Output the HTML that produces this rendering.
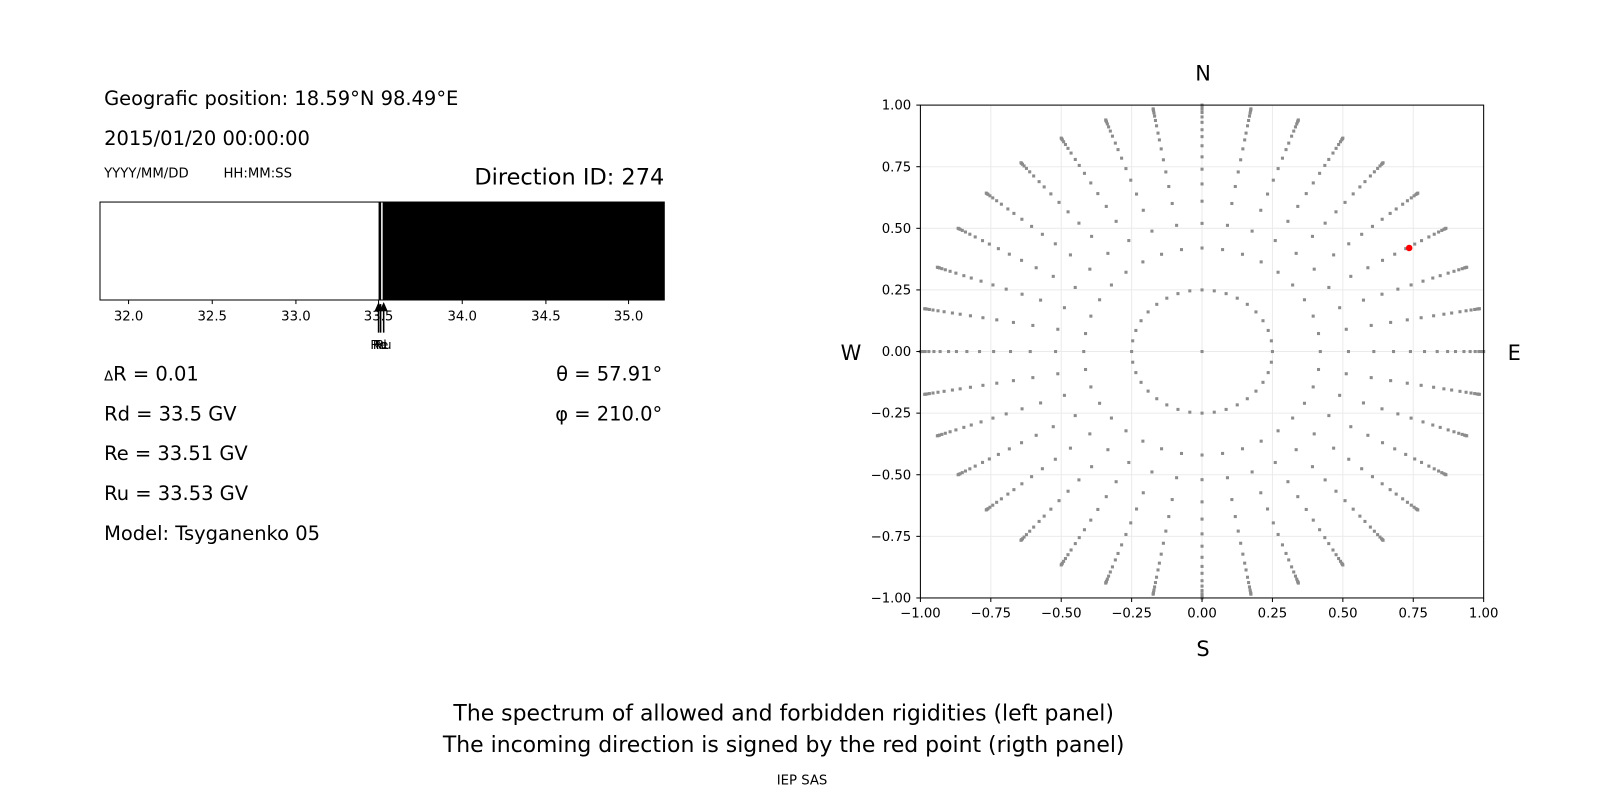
<!DOCTYPE html>
<html><head><meta charset="utf-8"><style>
html,body{margin:0;padding:0;background:#fff;}
svg{display:block;font-family:"DejaVu Sans","Liberation Sans",sans-serif;}
</style></head><body>
<svg id="s" width="1600" height="800" viewBox="0 0 1600 800" xmlns="http://www.w3.org/2000/svg">
<rect width="1600" height="800" fill="#fff"/>
<g transform="scale(1.0204)">
<g font-size="19.1" fill="#000">
<text x="102" y="103">Geografic position: 18.59°N 98.49°E</text>
<text x="102" y="142">2015/01/20 00:00:00</text>
<text x="102" y="174" font-size="13">YYYY/MM/DD</text>
<text x="219" y="174" font-size="13">HH:MM:SS</text>
<text x="651" y="181" font-size="22" text-anchor="end">Direction ID: 274</text>
</g>
<rect x="98" y="198" width="553" height="96" fill="#fff" stroke="#000" stroke-width="1"/>
<rect x="375" y="198" width="276" height="96" fill="#000"/>
<rect x="371" y="198" width="2.5" height="96" fill="#000"/>
<g font-size="13" text-anchor="middle" fill="#000">
<line x1="126" y1="294" x2="126" y2="298" stroke="#000"/><text x="126" y="314">32.0</text>
<line x1="208" y1="294" x2="208" y2="298" stroke="#000"/><text x="208" y="314">32.5</text>
<line x1="290" y1="294" x2="290" y2="298" stroke="#000"/><text x="290" y="314">33.0</text>
<line x1="371" y1="294" x2="371" y2="298" stroke="#000"/><text x="371" y="314">33.5</text>
<line x1="453" y1="294" x2="453" y2="298" stroke="#000"/><text x="453" y="314">34.0</text>
<line x1="535" y1="294" x2="535" y2="298" stroke="#000"/><text x="535" y="314">34.5</text>
<line x1="616" y1="294" x2="616" y2="298" stroke="#000"/><text x="616" y="314">35.0</text>
</g>
<g stroke="#000" stroke-width="1.5">
<line x1="371" y1="298" x2="371" y2="326"/><line x1="373" y1="298" x2="373" y2="326"/><line x1="376" y1="298" x2="376" y2="326"/>
</g>
<polygon points="367,305 371,296 375,305" fill="#000"/>
<polygon points="372,305 376,296 380,305" fill="#000"/>
<g font-size="12" text-anchor="middle" fill="#000">
<text x="371" y="342">Rd</text><text x="373" y="342">Re</text><text x="376" y="342">Ru</text>
</g>
<g font-size="19.1" fill="#000">
<text x="102" y="373"><tspan font-size="13">Δ</tspan>R = 0.01</text>
<text x="102" y="412">Rd = 33.5 GV</text>
<text x="102" y="451">Re = 33.51 GV</text>
<text x="102" y="490">Ru = 33.53 GV</text>
<text x="102" y="529">Model: Tsyganenko 05</text>
<text x="649" y="373" text-anchor="end">θ = 57.91°</text>
<text x="649" y="412" text-anchor="end">φ = 210.0°</text>
</g>
<g id="grid" stroke="#ebebeb" stroke-width="1"></g>
<g id="dots" fill="#8c8c8c"></g>
<circle cx="1381" cy="243" r="3.2" fill="#ff0000"/>
<rect x="902" y="103" width="552" height="483" fill="none" stroke="#000" stroke-width="1"/>
<g id="ticks" font-size="13" fill="#000"></g>
<g font-size="20.5" fill="#000" text-anchor="middle">
<text x="1179" y="79">N</text>
<text x="1179" y="643">S</text>
<text x="834" y="353">W</text>
<text x="1484" y="353">E</text>
</g>
<g font-size="21.5" fill="#000" text-anchor="middle">
<text x="768" y="706">The spectrum of allowed and forbidden rigidities (left panel)</text>
<text x="768" y="737">The incoming direction is signed by the red point (rigth panel)</text>
<text x="786" y="769" font-size="13">IEP SAS</text>
</g>
</g>
</svg>
<script>
var NS="http://www.w3.org/2000/svg";
var cx=1178,cy=344.5,sx=276,sy=241.5;
function el(p,t,a){var e=document.createElementNS(NS,t);for(var k in a)e.setAttribute(k,a[k]);document.getElementById(p).appendChild(e);return e;}
var vals=[-1,-0.75,-0.5,-0.25,0,0.25,0.5,0.75,1];
vals.forEach(function(v){
 var x=cx+v*sx,y=cy-v*sy;
 el("grid","line",{x1:x,y1:103,x2:x,y2:586});
 el("grid","line",{x1:902,y1:y,x2:1454,y2:y});
 el("ticks","line",{x1:x,y1:586,x2:x,y2:590,stroke:"#000"});
 el("ticks","line",{x1:898,y1:y,x2:902,y2:y,stroke:"#000"});
 var t=el("ticks","text",{x:x,y:605,"text-anchor":"middle"});t.textContent=v.toFixed(2).replace("-","−");
 var t2=el("ticks","text",{x:893,y:y+4.5,"text-anchor":"end"});t2.textContent=v.toFixed(2).replace("-","−");
});
var rs=[0.42,0.52,0.61,0.68,0.74,0.79,0.835,0.872,0.9,0.93,0.952,0.97,0.983,0.992,0.997,1.0];
function dot(x,y){el("dots","rect",{x:cx+x*sx-1.5,y:cy-y*sy-1.5,width:3,height:3});}
dot(0,0);
for(var a=0;a<360;a+=10){
 var r=a*Math.PI/180,s=Math.sin(r),c=Math.cos(r);
 dot(0.25*s,0.25*c);
 rs.forEach(function(q){dot(q*s,q*c);});
}
</script>
</body></html>
